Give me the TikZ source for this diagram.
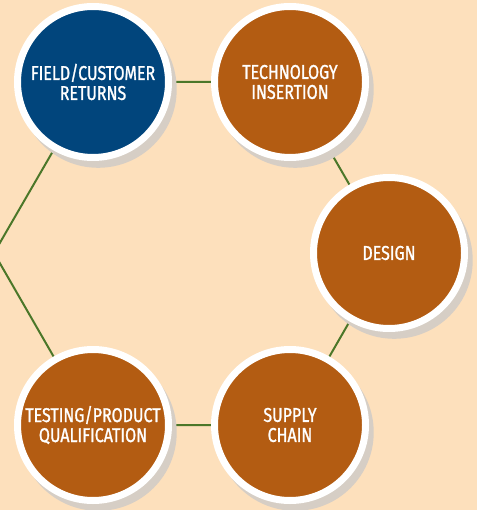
\documentclass[tikz,border=0pt]{standalone}
\usepackage{fontspec}
\setmainfont{Fira Sans}[FakeStretch=0.8, FakeBold=1.2]
\usetikzlibrary{shadows,backgrounds}
\definecolor{peach}{HTML}{FDE0BC}
\definecolor{rust}{HTML}{B35C12}
\definecolor{navy}{HTML}{01457C}
\definecolor{shade}{HTML}{D6CEC5}
\definecolor{vine}{HTML}{4B7729}

\begin{document}
\begin{tikzpicture}[x=1pt,y=-1pt,
  stage/.style = {circle, draw=white, line width=7pt, fill=rust, minimum size=151pt,
    inner sep=0pt, align=center, text=white, font=\fontsize{20}{20}\selectfont,
    drop shadow={shadow xshift=5pt, shadow yshift=-7pt, shadow scale=1.04, fill=shade, opacity=1}},
  link/.style = {draw=vine, line width=2pt}]
	\useasboundingbox (0,0) rectangle (477,510);
	\clip (0,0) rectangle (477,510);
	\node[stage, fill=navy] (field) at (93,82) {FIELD/CUSTOMER\\RETURNS};
	\node[stage] (tech) at (290,82) {TECHNOLOGY\\INSERTION};
	\node[stage] (design) at (389,253) {DESIGN};
	\node[stage] (supply) at (290,425) {SUPPLY\\CHAIN};
	\node[stage] (test) at (93,425) {TESTING/PRODUCT\\QUALIFICATION};
	\coordinate (hub) at (-6,253);
	\begin{scope}[on background layer]
	\fill[peach] (0,0) rectangle (477,510);
	\draw[link] (field.center) -- (tech.center) -- (design.center) -- (supply.center) -- (test.center) -- (hub) -- cycle;
	\end{scope}
\end{tikzpicture}
\end{document}
